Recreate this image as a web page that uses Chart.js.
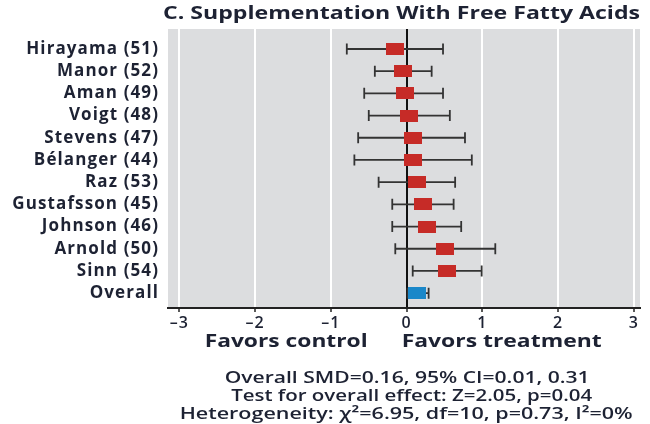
<!DOCTYPE html>
<html>
<head>
<meta charset="utf-8">
<script src="https://cdn.jsdelivr.net/npm/chart.js@4"></script>
<style>
  html, body { margin: 0; padding: 0; background: #ffffff; }
  #wrap { width: 650px; height: 424px; position: relative; }
</style>
</head>
<body>
<div id="wrap"><canvas id="c" width="650" height="424"></canvas></div>
<script>
// ---- data ----
const studies = ['Hirayama (51)', 'Manor (52)', 'Aman (49)', 'Voigt (48)', 'Stevens (47)', 'Bélanger (44)',
                 'Raz (53)', 'Gustafsson (45)', 'Johnson (46)', 'Arnold (50)', 'Sinn (54)', 'Overall'];
const smd    = [-0.15, -0.05, -0.02, 0.03, 0.08, 0.08, 0.13, 0.22, 0.27, 0.51, 0.53, 0.14];
const ciLow  = [-0.79, -0.42, -0.56, -0.50, -0.64, -0.69, -0.37, -0.19, -0.19, -0.15, 0.08, 0.01];
const ciHigh = [0.48, 0.33, 0.48, 0.57, 0.77, 0.86, 0.64, 0.62, 0.72, 1.17, 0.99, 0.29];
const xTickValues = [-3, -2, -1, 0, 1, 2, 3];
const xTickLabels = ['\u20133', '\u20132', '\u20131', '0', '1', '2', '3'];
const chartTitle = 'C. Supplementation With Free Fatty Acids';
const sideLabels = ['Favors control', 'Favors treatment'];
const statsLines = [
  'Overall SMD=0.16, 95% CI=0.01, 0.31',
  'Test for overall effect: Z=2.05, p=0.04',
  'Heterogeneity: \u03C7\u00B2=6.95, df=10, p=0.73, I\u00B2=0%'
];

// ---- styles ----
const TEXT = '#1d2233';
const FONT = '"Open Sans", "Noto Sans", sans-serif';
const RED = '#c62b27';
const BLUE = '#1a87c9';
const PANEL = '#dcdddf';

function boxStyle(color) {
  const cv = document.createElement('canvas');
  cv.width = 18; cv.height = 12;
  const g = cv.getContext('2d');
  g.fillStyle = color;
  g.fillRect(0, 0, 18, 12);
  return cv;
}

const nStudies = studies.length - 1;
const studyPoints = [];
for (let i = 0; i < nStudies; i++) studyPoints.push({ x: smd[i], y: i });
const overallPoints = [{ x: smd[nStudies], y: nStudies }];

const panelPlugin = {
  id: 'panel',
  beforeDraw(chart) {
    const { ctx, chartArea: a } = chart;
    ctx.letterSpacing = '1.1px';
    ctx.save();
    ctx.fillStyle = PANEL;
    ctx.fillRect(a.left, a.top, a.right - a.left, a.bottom - a.top);
    ctx.restore();
  }
};

const errorBarPlugin = {
  id: 'errorBars',
  beforeDatasetsDraw(chart) {
    const { ctx, scales: { x, y } } = chart;
    ctx.save();
    ctx.strokeStyle = '#333333';
    ctx.lineWidth = 1.8;
    for (let i = 0; i < studies.length; i++) {
      const py = y.getPixelForValue(i);
      const x1 = x.getPixelForValue(ciLow[i]);
      const x2 = x.getPixelForValue(ciHigh[i]);
      ctx.beginPath();
      ctx.moveTo(x1, py); ctx.lineTo(x2, py);
      ctx.moveTo(x1, py - 5.5); ctx.lineTo(x1, py + 5.5);
      ctx.moveTo(x2, py - 5.5); ctx.lineTo(x2, py + 5.5);
      ctx.stroke();
    }
    ctx.restore();
  }
};

// draw text centred at cx, horizontally fitted to width w
function fitText(ctx, text, cx, cy, w) {
  const m = ctx.measureText(text).width;
  const s = w / m;
  ctx.save();
  ctx.translate(cx, cy);
  ctx.scale(s, 1);
  ctx.textAlign = 'center';
  ctx.fillText(text, 0, 0);
  ctx.restore();
}

const textPlugin = {
  id: 'texts',
  afterDraw(chart) {
    const { ctx, scales: { x } } = chart;
    const x0 = x.getPixelForValue(0);
    ctx.save();
    ctx.letterSpacing = '0px';
    ctx.fillStyle = TEXT;
    ctx.textBaseline = 'middle';
    // title
    ctx.font = 'bold 18px ' + FONT;
    fitText(ctx, chartTitle, 401.5, 14, 477);
    // side labels
    ctx.font = 'bold 17px ' + FONT;
    fitText(ctx, sideLabels[0], x0 - 120.5, 342, 163);
    fitText(ctx, sideLabels[1], x0 + 95, 342, 200);
    // stats
    ctx.font = '600 16px ' + FONT;
    const ys = [378, 396.5, 414];
    const cxs = [x0 + 0.5, x0 + 5, x0 - 0.5];
    const ws = [365, 361, 453];
    statsLines.forEach((s, i) => fitText(ctx, s, cxs[i], ys[i], ws[i]));
    ctx.restore();
  }
};

new Chart(document.getElementById('c'), {
  type: 'scatter',
  data: {
    datasets: [
      { data: studyPoints, pointStyle: boxStyle(RED), pointRadius: 9, pointHoverRadius: 9 },
      { data: overallPoints, pointStyle: boxStyle(BLUE), pointRadius: 9, pointHoverRadius: 9 }
    ]
  },
  options: {
    responsive: false,
    animation: false,
    events: [],
    layout: { padding: { left: 0, right: 10, top: 29, bottom: 96 } },
    plugins: { legend: { display: false }, tooltip: { enabled: false }, title: { display: false } },
    scales: {
      x: {
        type: 'linear',
        min: -3.15, max: 3.08,
        afterBuildTicks(scale) { scale.ticks = xTickValues.map(v => ({ value: v })); },
        afterFit(scale) { scale.height = 20; },
        ticks: {
          includeBounds: false,
          padding: 2,
          color: TEXT,
          font: { family: FONT, size: 16, weight: '600' },
          callback: (v) => { const k = xTickValues.indexOf(v); return k >= 0 ? xTickLabels[k] : ''; }
        },
        grid: {
          color: (c) => (c.tick && c.tick.value === 0 ? '#111111' : '#ffffff'),
          lineWidth: 2,
          tickLength: 4,
          tickColor: '#222222',
          tickWidth: 1.5
        },
        border: { display: true, color: '#222222', width: 2 }
      },
      y: {
        type: 'linear',
        reverse: true,
        min: -0.9, max: 11.67,
        afterBuildTicks(scale) { scale.ticks = studies.map((_, i) => ({ value: i })); },
        afterFit(scale) { scale.width = 168; },
        ticks: {
          padding: 9,
          color: TEXT,
          font: { family: FONT, size: 17, weight: 'bold' },
          callback: (v) => studies[v] ?? ''
        },
        grid: { display: false, drawTicks: false },
        border: { display: false }
      }
    }
  },
  plugins: [panelPlugin, errorBarPlugin, textPlugin]
});
</script>
</body>
</html>
